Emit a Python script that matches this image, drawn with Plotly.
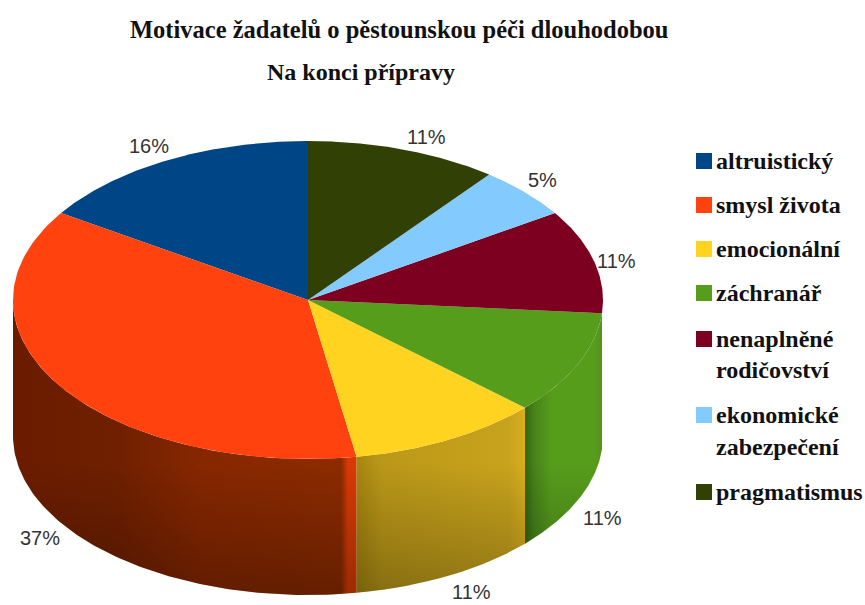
import numpy as np
import plotly.graph_objects as go

# ---- data ----
categories = ["altruistický", "smysl života", "emocionální", "záchranář",
              "nenaplněné rodičovství", "ekonomické zabezpečení", "pragmatismus"]
counts = [3, 7, 2, 2, 2, 1, 2]
legend_lines = [["altruistický"], ["smysl života"], ["emocionální"], ["záchranář"],
                ["nenaplněné", "rodičovství"], ["ekonomické", "zabezpečení"], ["pragmatismus"]]

# ---- style ----
colors = ["#004586", "#FF420E", "#FFD320", "#579D1C", "#7E0021", "#83CAFF", "#314004"]
side_stops = [None] * 7
side_stops[1] = [[0, "#6b1c00"], [0.3, "#6f2000"], [0.55, "#872700"], [0.955, "#8c2b00"], [0.975, "#d93a05"], [1, "#d93a05"]]
side_stops[2] = [[0, "#a5850f"], [0.15, "#bb9818"], [0.9, "#c8a31c"], [1, "#d9ae1f"]]
side_stops[3] = [[0, "#356410"], [0.12, "#47831a"], [0.35, "#579D1C"], [0.9, "#579D1C"], [1, "#5a8f20"]]

CX, CY, RX, RY, DEPTH = 308, 300, 295, 159, 136
TITLE_1 = "Motivace žadatelů o pěstounskou péči dlouhodobou"
TITLE_2 = "Na konci přípravy"
LABEL_POS = [(149, 146), (40, 538), (471, 592), (602, 518), (616, 261), (542, 180), (426, 137)]
LEGEND_Y = [[161], [205], [249], [293], [339, 370], [415, 447], [492]]
LEGEND_MARK_X, LEGEND_TEXT_X = 704, 714
TITLE_FONT = "Liberation Serif"

total = sum(counts)
ends = np.cumsum(counts) / total * 2 * np.pi
starts = np.concatenate([[0], ends[:-1]])


def pt(theta, dz=0.0):
    # theta grows counter-clockwise from 12 o'clock
    return CX - RX * np.sin(theta), CY - RY * np.cos(theta) + dz


fig = go.Figure()

# side walls (front half of the cylinder only)
all_t = np.linspace(np.pi / 2, 3 * np.pi / 2, 181)
for i, (a, b) in enumerate(zip(starts, ends)):
    lo, hi = max(a, np.pi / 2), min(b, 3 * np.pi / 2)
    if hi <= lo or side_stops[i] is None:
        continue
    t = np.linspace(lo, hi, 120)
    xt, yt = pt(t)
    xb, yb = pt(t[::-1], DEPTH)
    fig.add_trace(go.Scatter(
        x=np.concatenate([xt, xb]), y=np.concatenate([yt, yb]),
        mode="lines", line=dict(width=0), fill="toself",
        fillgradient=dict(type="horizontal", colorscale=side_stops[i]),
        hoverinfo="skip", showlegend=False))

# darkening towards the bottom of the wall
xt, yt = pt(all_t)
xb, yb = pt(all_t[::-1], DEPTH)
fig.add_trace(go.Scatter(
    x=np.concatenate([xt, xb]), y=np.concatenate([yt, yb]),
    mode="lines", line=dict(width=0), fill="toself",
    fillgradient=dict(type="vertical", colorscale=[[0, "rgba(0,0,0,0.28)"], [0.45, "rgba(0,0,0,0.0)"], [1, "rgba(0,0,0,0.0)"]]),
    hoverinfo="skip", showlegend=False))

# top faces
for i, (a, b) in enumerate(zip(starts, ends)):
    t = np.linspace(a, b, 120)
    x, y = pt(t)
    fig.add_trace(go.Scatter(
        x=np.concatenate([[CX], x, [CX]]), y=np.concatenate([[CY], y, [CY]]),
        mode="lines", line=dict(width=0), fill="toself", fillcolor=colors[i],
        name=categories[i], hoverinfo="name", showlegend=False))

# percentage labels
annotations = []
for c, (lx, ly) in zip(counts, LABEL_POS):
    annotations.append(dict(x=lx, y=ly, xref="x", yref="y", showarrow=False,
                            text=f"{round(100 * c / total)}%",
                            font=dict(family="Liberation Sans", size=20, color="#333333")))

# legend
mark_x, mark_y = [], []
for lines, ys in zip(legend_lines, LEGEND_Y):
    mark_x.append(LEGEND_MARK_X)
    mark_y.append(ys[0])
    for line, ly in zip(lines, ys):
        annotations.append(dict(x=LEGEND_TEXT_X, y=ly, xref="x", yref="y", xanchor="left", showarrow=False,
                                text=f"<b>{line}</b>",
                                font=dict(family=TITLE_FONT, size=24, color="#111111")))
fig.add_trace(go.Scatter(x=mark_x, y=mark_y, mode="markers",
                         marker=dict(symbol="square", size=16, color=colors, line=dict(width=0)),
                         hoverinfo="skip", showlegend=False))

annotations.append(dict(x=399, y=29, xref="x", yref="y", showarrow=False, text=f"<b>{TITLE_1}</b>",
                        font=dict(family=TITLE_FONT, size=24.5, color="#111111")))
annotations.append(dict(x=361, y=72, xref="x", yref="y", showarrow=False, text=f"<b>{TITLE_2}</b>",
                        font=dict(family=TITLE_FONT, size=24, color="#111111")))

fig.update_layout(
    width=865, height=605, margin=dict(l=0, r=0, t=0, b=0),
    paper_bgcolor="white", plot_bgcolor="white", showlegend=False,
    xaxis=dict(range=[0, 865], visible=False, fixedrange=True),
    yaxis=dict(range=[605, 0], visible=False, fixedrange=True),
    annotations=annotations,
)
fig.write_html("out.html", config={"displayModeBar": False},
               post_script="document.body.style.margin='0';document.documentElement.style.overflow='hidden';")
